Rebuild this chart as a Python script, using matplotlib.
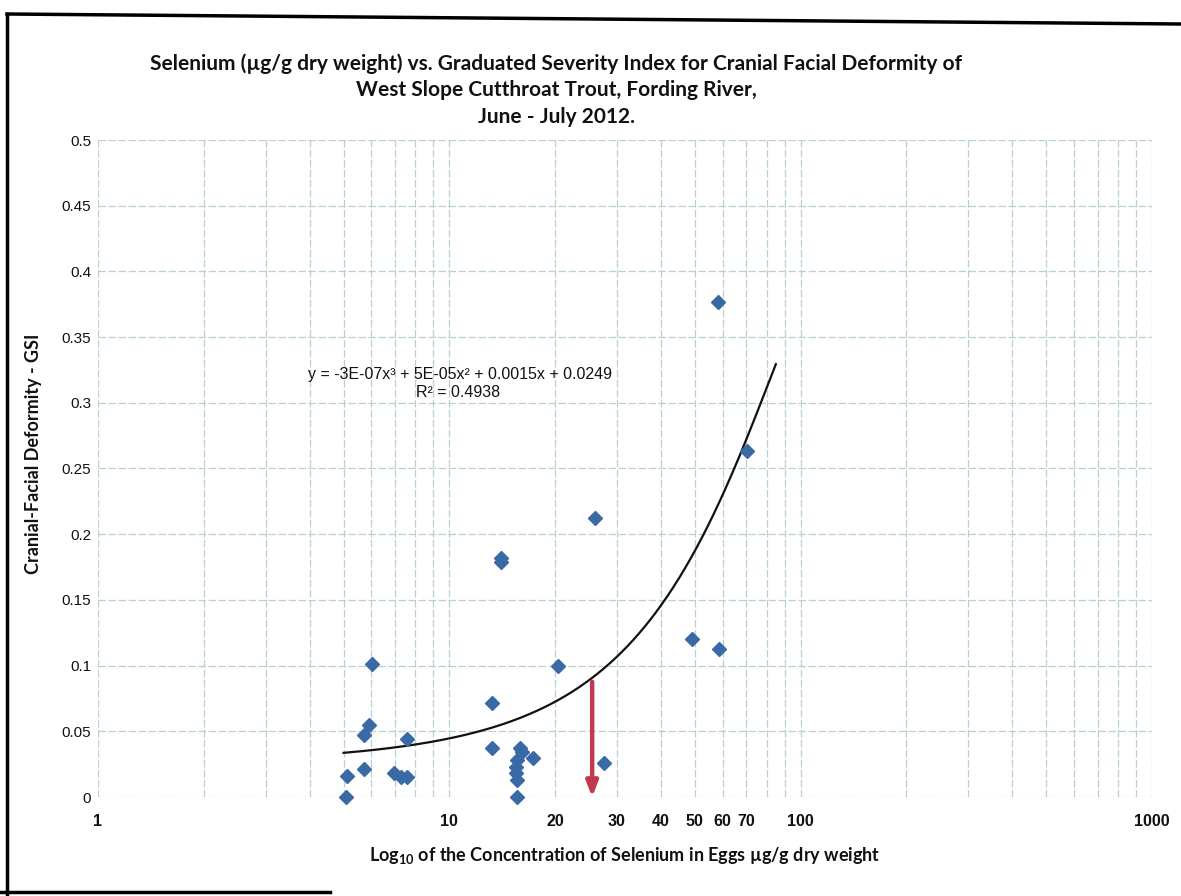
import numpy as np
import matplotlib
matplotlib.use("Agg")
import matplotlib.pyplot as plt
from matplotlib.lines import Line2D
from matplotlib.ticker import FixedLocator, NullFormatter

# selenium in eggs (ug/g dw) and graduated severity index
se_conc = [5.07, 5.12, 5.71, 5.71, 5.90, 6.04, 6.96, 7.28, 7.58, 7.58,
           13.2, 13.2, 14.0, 14.0, 15.6, 15.9, 16.15, 15.6, 15.5, 15.5,
           15.6, 17.25, 20.4, 25.9, 27.6, 49.1, 58.7, 58.3, 70.2]
gsi = [0.0, 0.016, 0.021, 0.047, 0.055, 0.101, 0.018, 0.0155, 0.0155, 0.044,
       0.0715, 0.037, 0.182, 0.179, 0.0, 0.037, 0.034, 0.028, 0.023, 0.018,
       0.013, 0.030, 0.100, 0.212, 0.026, 0.120, 0.113, 0.377, 0.263]

# 3rd order polynomial trend (coefficients as reported)
fit_coef = [-3e-07, 5e-05, 0.0015, 0.0249]
fit_r2 = 0.4938
fit_range = (5.0, 85.0)
arrow_x = 25.5

x_ticks = [1, 10, 20, 30, 40, 50, 60, 70, 100, 1000]
y_ticks = [0, 0.05, 0.1, 0.15, 0.2, 0.25, 0.3, 0.35, 0.4, 0.45, 0.5]
y_tick_labels = ["0", "0.05", "0.1", "0.15", "0.2", "0.25", "0.3", "0.35", "0.4", "0.45", "0.5"]

plt.rcParams['mathtext.default'] = 'regular'

W, H = 1181, 896
fig = plt.figure(figsize=(W/100, H/100), dpi=100)
fig.patch.set_facecolor("white")

# axes box in pixel terms
x0, x1, ytop, ybot = 98, 1152, 140, 797
ax = fig.add_axes([x0/W, 1-ybot/H, (x1-x0)/W, (ybot-ytop)/H])
ax.set_xscale("log")
ax.set_xlim(1, 1000)
ax.set_ylim(0, 0.5)

for s in ax.spines.values():
    s.set_visible(False)

# grid: every log minor step and every 0.05
grid_c = "#b9d0d0"
ax.xaxis.set_major_locator(FixedLocator(x_ticks))
minor_x = [m*10**d for d in range(0, 3) for m in range(2, 10)]
ax.xaxis.set_minor_locator(FixedLocator(minor_x))
ax.xaxis.set_minor_formatter(NullFormatter())
ax.set_xticklabels([str(t) for t in x_ticks])
ax.set_yticks(y_ticks)
ax.set_yticklabels(y_tick_labels)
ax.grid(True, which="both", axis="x", color=grid_c, lw=0.9, ls=(0, (6, 2)))
ax.grid(True, which="major", axis="y", color=grid_c, lw=0.9, ls=(0, (6, 2)))
ax.tick_params(which="both", length=0)
ax.tick_params(axis="x", pad=12)
ax.tick_params(axis="y", pad=5)
for lab in ax.get_xticklabels():
    lab.set_fontfamily("Liberation Sans")
    lab.set_fontsize(11.5)
    lab.set_fontweight("bold")
    lab.set_color("#111111")
for lab in ax.get_yticklabels():
    lab.set_fontfamily("Liberation Sans")
    lab.set_fontsize(11)
    lab.set_color("#111111")

# trend line
xs = np.logspace(np.log10(fit_range[0]), np.log10(fit_range[1]), 300)
ax.plot(xs, np.polyval(fit_coef, xs), color="#111111", lw=1.6, zorder=3)

# scatter
ax.plot(se_conc, gsi, ls="none", marker="D", ms=7.5, color="#3a6aa6",
        mec="#3a6aa6", zorder=4, clip_on=False)

# arrow from the trend line down to the axis
y_arrow = np.polyval(fit_coef, arrow_x) - 0.003
ax.annotate("", xy=(arrow_x, 0.0), xytext=(arrow_x, y_arrow),
            arrowprops=dict(arrowstyle="-|>,head_length=0.9,head_width=0.35",
                            color="#bf3a50", lw=3.2, shrinkA=0, shrinkB=0),
            zorder=5)

# equation label
fig.text(460/W, 1-375/H, "y = -3E-07x³ + 5E-05x² + 0.0015x + 0.0249",
         ha="center", va="center", fontsize=11.5, family="Liberation Sans",
         color="#111111")
fig.text(458/W, 1-392/H, "R² = %.4f" % fit_r2,
         ha="center", va="center", fontsize=11.5, family="Liberation Sans",
         color="#111111")

# title and axis labels
fig.text(556/W, 1-90/H,
         "Selenium (µg/g dry weight) vs. Graduated Severity Index for Cranial Facial Deformity of\n"
         "West Slope Cutthroat Trout, Fording River,\n"
         "June - July 2012.",
         ha="center", va="center", fontsize=15, fontweight="bold",
         family="Lato", linespacing=1.42, color="#111111")
ax.set_xlabel("Log$_{10}$ of the Concentration of Selenium in Eggs µg/g dry weight",
              fontsize=13, fontweight="bold", family="Lato", labelpad=12,
              color="#111111")
ax.set_ylabel("Cranial-Facial Deformity - GSI", fontsize=13, fontweight="bold",
              family="Lato", color="#111111")
ax.yaxis.set_label_coords(-0.053, 0.523)

# page border
border = dict(color="black", lw=2.5, transform=fig.transFigure)
fig.add_artist(Line2D([7/W, 7/W], [1-14/H, 1-895/H], **border))
fig.add_artist(Line2D([7/W, 1.0], [1-14/H, 1-24/H], **border))
fig.add_artist(Line2D([0, 330/W], [1-892/H, 1-892/H], **border))

fig.savefig("out.png", dpi=100)
